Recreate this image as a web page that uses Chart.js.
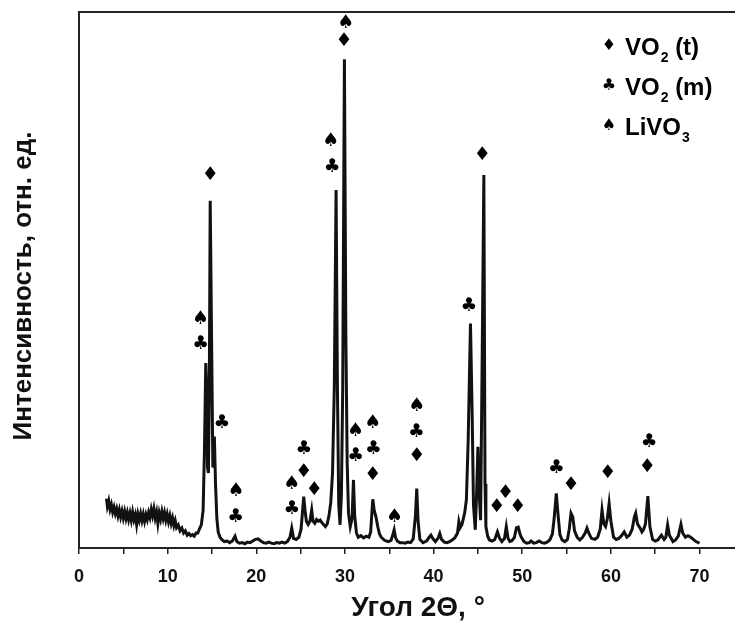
<!DOCTYPE html>
<html>
<head>
<meta charset="utf-8">
<script src="https://cdn.jsdelivr.net/npm/chart.js@4.4.0/dist/chart.umd.min.js"></script>
<style>
  html, body { margin:0; padding:0; background:#fff; overflow:hidden; }
  canvas { display:block; }
</style>
</head>
<body>
<canvas id="xrd" width="735" height="628"></canvas>
<script>
// XRD pattern: 2theta (deg) and relative intensity (0..100 of the plot height)
const twoTheta = [
  3.1,3.2,3.35,3.5,3.65,3.8,3.95,4.1,4.25,4.4,4.55,4.7,4.85,5.0,5.15,5.3,5.45,5.6,5.75,5.9,
  6.05,6.2,6.35,6.5,6.65,6.8,6.95,7.1,7.25,7.4,7.55,7.7,7.85,8.0,8.15,8.3,8.45,8.6,8.75,8.9,
  9.05,9.2,9.35,9.5,9.65,9.8,9.95,10.1,10.25,10.4,10.55,10.7,10.85,11.0,11.2,11.4,11.6,11.8,12.0,12.2,
  12.4,12.6,12.8,13.0,13.2,13.4,13.6,13.8,14.0,14.15,14.3,14.4,14.5,14.6,14.7,14.8,14.95,15.1,15.27,15.4,
  15.55,15.7,15.9,16.1,16.4,16.7,17.0,17.3,17.6,17.8,18.1,18.4,18.7,19.0,19.3,19.6,19.9,20.2,20.5,20.8,
  21.1,21.4,21.7,22.0,22.3,22.6,22.9,23.2,23.5,23.8,24.0,24.2,24.5,24.8,25.05,25.2,25.35,25.5,25.65,25.85,
  26.05,26.25,26.4,26.6,26.8,27.0,27.2,27.5,27.8,28.0,28.2,28.4,28.6,28.8,29.0,29.15,29.3,29.45,29.6,29.75,
  29.94,30.1,30.25,30.4,30.6,30.8,30.96,31.1,31.3,31.5,31.8,32.1,32.4,32.7,32.9,33.14,33.3,33.5,33.7,33.9,
  34.1,34.5,34.9,35.2,35.4,35.55,35.7,35.9,36.2,36.5,36.8,37.1,37.4,37.7,37.95,38.1,38.25,38.45,38.8,39.2,
  39.5,39.7,39.9,40.2,40.5,40.7,40.9,41.2,41.5,41.8,42.1,42.4,42.7,42.85,43.0,43.2,43.5,43.7,43.9,44.16,
  44.35,44.5,44.7,44.85,45.0,45.15,45.3,45.45,45.67,45.8,45.9,46.1,46.3,46.6,46.9,47.2,47.45,47.7,48.0,48.2,
  48.4,48.6,48.8,49.1,49.35,49.55,49.75,49.9,50.2,50.5,50.8,51.0,51.3,51.6,51.9,52.2,52.5,52.8,53.1,53.4,
  53.6,53.84,54.05,54.25,54.5,54.8,55.1,55.3,55.5,55.7,55.9,56.2,56.5,56.8,57.1,57.3,57.5,57.8,58.2,58.5,
  58.8,59.0,59.2,59.4,59.6,59.8,60.0,60.3,60.6,60.9,61.2,61.5,61.8,62.1,62.4,62.65,62.8,63.0,63.3,63.5,
  63.7,63.9,64.17,64.4,64.7,65.0,65.3,65.7,66.0,66.2,66.4,66.6,67.0,67.3,67.6,67.9,68.1,68.4,68.7,69.0,
  69.3,69.6,70.0
];
const intensity = [
  9.2,7.8,8.8,7.2,8.1,6.7,7.6,6.4,7.3,6.0,7.1,5.8,6.9,5.6,6.8,5.5,6.6,5.3,6.5,5.2,
  6.7,5.3,6.2,4.4,6.3,5.2,6.4,5.1,6.3,5.0,6.2,5.3,6.6,5.7,7.2,6.0,7.3,5.6,6.7,4.6,
  6.5,5.4,6.8,5.5,6.6,5.2,6.3,4.9,6.0,4.6,5.6,4.2,5.1,3.8,4.3,3.2,3.7,2.8,3.2,2.4,
  2.7,2.3,2.5,2.2,2.8,2.8,3.6,4.3,7.0,18,34.5,30,15,14,30,64.8,40,15,20.8,12,
  5.5,3.0,2.0,1.6,1.2,1.3,1.0,1.3,2.2,1.2,0.9,1.0,0.8,1.1,1.0,1.3,1.6,1.7,1.3,1.0,
  0.9,1.1,0.9,0.8,1.0,0.9,1.1,0.9,1.2,2.0,3.7,1.8,1.6,2.0,3.5,6.5,9.6,7.0,5.0,4.4,
  5.0,7.1,5.0,4.6,5.3,5.0,5.2,4.5,4.0,4.5,6.0,8.5,14,30,66.8,30,8,4.3,10,30,
  91.2,40,16,6.5,4.0,5.5,12.7,6,2.8,2.0,2.3,1.9,2.2,2.0,3.0,9.1,7,5.8,4.0,2.6,
  2.0,1.4,1.2,1.4,2.5,3.4,2.0,1.3,1.0,1.0,0.9,1.1,1.0,1.7,6,11.1,5,1.6,1.0,1.3,
  2.0,2.4,1.8,1.2,1.8,2.7,1.6,1.1,1.0,1.2,1.5,1.9,2.8,4.9,3.8,4.4,6.5,9,20,41.9,
  25,8,3.4,10,18.9,10,5.2,30,69.6,12,4.0,2.2,1.5,1.3,1.6,3.0,1.8,1.2,1.8,4.0,
  1.8,1.2,1.3,1.9,3.8,3.9,2.6,2.0,1.2,0.9,1.0,1.3,0.9,1.0,1.3,1.0,0.9,1.1,1.5,2.6,
  5.5,10.2,6,2.5,1.5,1.2,1.6,3.5,6.5,5.8,3.2,2.0,1.5,2.0,2.8,3.7,2.8,1.8,1.6,2.0,
  3.5,7.1,4.5,4.0,5.5,8.3,5.0,2.0,1.6,1.8,2.3,3.0,2.0,2.4,3.5,5.8,6.5,4.5,3.7,3.0,
  3.5,4.5,9.7,4.0,1.6,1.3,1.5,2.4,1.6,2.0,4.3,2.4,1.2,1.5,2.2,4.4,2.8,2.0,2.3,2.0,
  1.6,1.2,0.9
];

// phase marks: VO2 (t) diamonds, VO2 (m) clubs, LiVO3 spades
const tX = [14.8,29.9,25.35,26.55,33.15,38.1,45.5,47.13,48.1,49.5,55.5,59.66,64.1];
const tY = [69.5,94.6,14.1,10.8,13.6,17.2,73.3,7.7,10.3,7.7,11.75,13.9,15.1];
const mX = [13.7,16.1,17.65,24.0,25.35,28.55,31.2,33.2,38.05,43.97,53.84,64.3];
const mY = [38.0,23.4,5.7,7.3,18.5,71.1,17.2,18.5,21.7,45.1,15.0,19.8];
const lX = [13.7,17.7,24.0,28.4,30.1,31.2,33.15,35.6,38.1];
const lY = [42.7,10.6,11.9,76.0,98.0,21.9,23.4,5.8,26.5];

const legendRows = [
  ['\u2666', 'VO', '2', ' (t)'],
  ['\u2663', 'VO', '2', ' (m)'],
  ['\u2660', 'LiVO', '3', '']
];
const xTitle = 'Угол 2\u0398, \u00b0';
const yTitle = 'Интенсивность, отн. ед.';

const FONT = '"Liberation Sans", Arial, Helvetica, sans-serif';
const SYM = '"DejaVu Sans", sans-serif';
Chart.defaults.font.family = FONT;

const marks = {
  id: 'marks',
  afterDatasetsDraw(chart){
    const {ctx, chartArea:a, scales:{x, y}} = chart;
    ctx.save();
    // frame: the right side lies past the picture edge
    ctx.strokeStyle = '#222'; ctx.lineWidth = 2;
    ctx.beginPath();
    ctx.moveTo(a.left, a.bottom); ctx.lineTo(a.left, a.top); ctx.lineTo(a.right + 2, a.top);
    ctx.stroke();
    ctx.fillStyle = '#000';
    ctx.textAlign = 'center'; ctx.textBaseline = 'middle';
    ctx.font = '19px ' + SYM;
    const put = (xs, ys, s) => xs.forEach((v,i) => ctx.fillText(s, x.getPixelForValue(v), y.getPixelForValue(ys[i])));
    put(tX, tY, '\u2666');
    put(mX, mY, '\u2663');
    put(lX, lY, '\u2660');
    // axis titles (the plot runs on past the right edge, so they sit off the visible centre)
    ctx.fillStyle = '#111';
    ctx.font = 'bold 28px ' + FONT;
    ctx.fillText(xTitle, 418, 608);
    ctx.save();
    ctx.translate(24, 286); ctx.rotate(-Math.PI/2);
    ctx.font = 'bold 26px ' + FONT;
    ctx.fillText(yTitle, 0, 0);
    ctx.restore();
    // legend
    ctx.fillStyle = '#000';
    legendRows.forEach((r, i) => {
      const ly = 46 + i*40;
      ctx.textAlign = 'center'; ctx.textBaseline = 'middle';
      ctx.font = '16px ' + SYM;
      ctx.fillText(r[0], 609, ly);
      ctx.textAlign = 'left'; ctx.textBaseline = 'alphabetic';
      let px = 625;
      ctx.font = 'bold 24px ' + FONT;
      ctx.fillText(r[1], px, ly + 9); px += ctx.measureText(r[1]).width + 1;
      ctx.font = 'bold 14px ' + FONT;
      ctx.fillText(r[2], px, ly + 16); px += ctx.measureText(r[2]).width;
      ctx.font = 'bold 24px ' + FONT;
      ctx.fillText(r[3], px, ly + 9);
    });
    ctx.restore();
  }
};

new Chart(document.getElementById('xrd'), {
  type: 'line',
  data: { datasets: [{
    data: twoTheta.map((v,i) => ({x:v, y:intensity[i]})),
    borderColor: '#111', borderWidth: 3, pointRadius: 0, tension: 0, fill: false
  }]},
  options: {
    responsive: false, animation: false, devicePixelRatio: 1,
    layout: { padding: { top: 12, left: 0, right: 0, bottom: 0 } },
    plugins: { legend: {display:false}, tooltip: {enabled:false} },
    scales: {
      x: { type:'linear', min:0, max:74,
        afterBuildTicks(s){ s.ticks = [0,5,10,15,20,25,30,35,40,45,50,55,60,65,70].map(v => ({value:v})); },
        ticks: { autoSkip:false, maxRotation:0, padding:12, color:'#111',
          font:{size:18, weight:'bold'}, callback: v => v % 10 === 0 ? v : '' },
        grid: { drawOnChartArea:false, drawTicks:true, tickLength:6, color:'#222', lineWidth:1.5 },
        border: { display:true, color:'#222', width:2 },
        afterFit(s){ s.height = 80; }
      },
      y: { min:0, max:100,
        ticks: { display:false },
        grid: { display:false, drawTicks:false },
        border: { display:false },
        afterFit(s){ s.width = 79; }
      }
    }
  },
  plugins: [marks]
});
</script>
</body>
</html>
